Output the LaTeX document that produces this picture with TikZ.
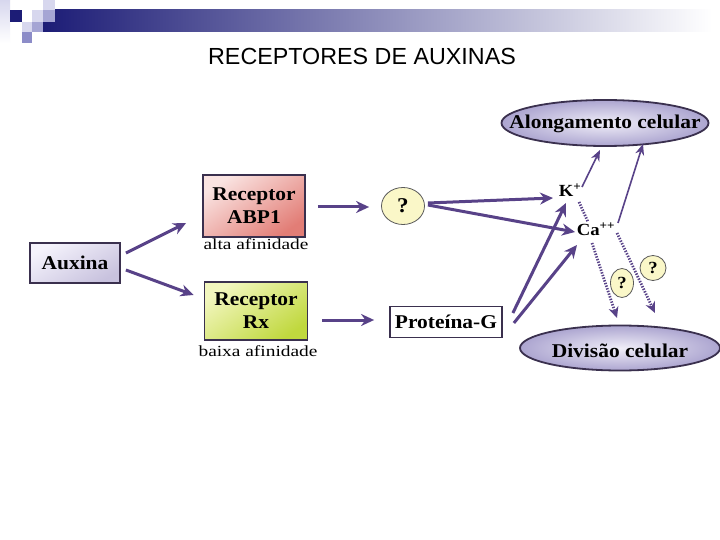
\documentclass[tikz,border=0pt]{standalone}
\usepackage{fontspec}
\setmainfont[FakeStretch=1.1]{Liberation Serif}
\newfontfamily\subfont[FakeStretch=1.25]{Liberation Serif}
\newfontfamily\titlefont{Liberation Sans}
\usetikzlibrary{shapes.geometric,arrows.meta}
\definecolor{arr}{RGB}{88,66,136}
\definecolor{navy}{RGB}{28,28,118}
\definecolor{bord}{RGB}{58,48,78}
\definecolor{lav1}{RGB}{215,215,238}
\definecolor{lav2}{RGB}{165,165,212}
\definecolor{lav3}{RGB}{140,140,200}
\tikzset{
  boxnode/.style={draw=bord, line width=1.8pt, inner sep=1pt, align=center,
    font=\bfseries\fontsize{19.5}{23}\selectfont},
  subtext/.style={font=\subfont\fontsize{15.5}{17}\selectfont, inner sep=0pt, anchor=base},
  ionnode/.style={font=\bfseries\fontsize{17}{18}\selectfont, inner sep=0pt},
  ellnode/.style={ellipse, draw=bord, line width=1.8pt, inner sep=0pt,
    inner color={rgb,255:red,240;green,238;blue,248}, outer color={rgb,255:red,172;green,165;blue,208}},
  elltext/.style={font=\bfseries\fontsize{19.5}{20}\selectfont, inner sep=0pt},
  qnode/.style={ellipse, draw={rgb,255:red,90;green,90;blue,90}, line width=0.8pt, inner sep=0pt,
    fill={rgb,255:red,250;green,247;blue,200}, font=\bfseries\fontsize{17}{18}\selectfont},
  flow/.style={draw=arr, line width=3pt, -{Stealth[length=13pt,width=12pt]}},
  thinflow/.style={draw=arr, line width=1.6pt, -{Stealth[length=11pt,width=9pt]}},
  dotflow/.style={draw=arr, line width=2.8pt, dash pattern=on 1.4pt off 1.4pt,
    -{Stealth[length=11pt,width=10pt]}},
  dotline/.style={draw=arr, line width=2.8pt, dash pattern=on 1.4pt off 1.4pt}
}
\begin{document}
\begin{tikzpicture}[x=1pt,y=-1pt]
\fill[white] (0,0) rectangle (720,540);
\useasboundingbox (0,0) rectangle (720,540);
% header decoration
\shade[top color=lav1, bottom color=white] (0,0) rectangle (10,43);
\shade[left color=navy, right color=white] (43,10) rectangle (712,32);
\fill[navy] (10,10) rectangle (22,22);
\fill[lav1] (32,10) rectangle (43,22);
\fill[lav1] (43,0) rectangle (55,10);
\fill[lav2] (43,10) rectangle (55,22);
\fill[lav1] (22,22) rectangle (32,32);
\fill[lav2] (32,22) rectangle (43,32);
\fill[lav3] (22,32) rectangle (32,43);
% title
\node[anchor=base, font=\titlefont\fontsize{23.3}{24}\selectfont, inner sep=0pt] (title) at (362,65) {RECEPTORES DE AUXINAS};
% boxes
\node[boxnode, minimum width=90pt, minimum height=40pt,
  top color={rgb,255:red,245;green,243;blue,252}, bottom color={rgb,255:red,200;green,194;blue,222}, shading angle=30] (aux) at (75,263) {Auxina};
\node[boxnode, minimum width=102pt, minimum height=62pt,
  top color={rgb,255:red,250;green,228;blue,226}, bottom color={rgb,255:red,226;green,125;blue,118}, shading angle=35] (abp) at (254,206) {Receptor\\ABP1};
\node[subtext] (alta) at (256,249) {alta afinidade};
\node[boxnode, minimum width=103pt, minimum height=58pt,
  top color={rgb,255:red,242;green,246;blue,190}, bottom color={rgb,255:red,192;green,216;blue,62}, shading angle=35] (rx) at (256,311) {Receptor\\Rx};
\node[subtext] (baixa) at (258,356) {baixa afinidade};
\node[qnode, minimum width=43pt, minimum height=37pt, font=\bfseries\fontsize{21}{22}\selectfont] (q) at (403,206) {?};
\node[boxnode, fill=white, minimum width=112pt, minimum height=31pt] (protg) at (446,322) {Proteína-G};
% ions
\node[ionnode] (k) at (570,190) {K\textsuperscript{+}};
\node[ionnode] (ca) at (596,229) {Ca\textsuperscript{++}};
% ellipses
\node[ellnode, minimum width=207pt, minimum height=46pt] (along) at (605,123) {};
\node[elltext] (alongT) at ([yshift=-1pt]along.center) {Alongamento celular};
\node[ellnode, minimum width=200pt, minimum height=45pt] (div) at (620,348) {};
\node[elltext] (divT) at ([yshift=-3pt]div.center) {Divisão celular};
% small question marks
\node[qnode, minimum width=23pt, minimum height=29pt] (q1) at (622,283) {?};
\node[qnode, minimum width=26pt, minimum height=25pt] (q2) at (653,268) {?};
% connectors
\draw[flow] ([xshift=5pt,yshift=10pt]aux.east) -- ([xshift=-16pt,yshift=-17pt]abp.west);
\draw[flow] ([xshift=5pt,yshift=-7pt]aux.east) -- ([xshift=-10pt,yshift=16pt]rx.west);
\draw[flow] ([xshift=12pt,yshift=-1pt]abp.east) -- ([xshift=-12pt,yshift=-1pt]q.west);
\draw[flow] ([xshift=14pt,yshift=-9pt]rx.east) -- ([xshift=-15pt,yshift=2pt]protg.west);
\draw[flow] ([xshift=3pt,yshift=3pt]q.east) -- ([xshift=-17pt,yshift=-8pt]k.center);
\draw[flow] ([xshift=3pt,yshift=1pt]q.east) -- ([xshift=-21pt,yshift=-3pt]ca.center);
\draw[flow] ([xshift=10pt,yshift=9pt]protg.east) -- ([xshift=-4pt,yshift=-13pt]k.center);
\draw[flow] ([xshift=11pt,yshift=-1pt]protg.east) -- ([xshift=-19pt,yshift=-16pt]ca.center);
\draw[thinflow] ([xshift=12pt,yshift=3pt]k.center) -- ([xshift=-5pt,yshift=-27pt]along.center);
\draw[thinflow] ([xshift=22pt,yshift=6pt]ca.center) -- ([xshift=38pt,yshift=-21pt]along.center);
\draw[dotline] ([xshift=9pt,yshift=-12pt]k.center) -- ([xshift=-8pt,yshift=7pt]ca.center);
\draw[dotflow] ([xshift=-4pt,yshift=-14pt]ca.center) -- ([xshift=-3pt,yshift=30pt]div.center);
\draw[dotflow] ([xshift=21pt,yshift=-4pt]ca.center) -- ([xshift=35pt,yshift=35pt]div.center);
\end{tikzpicture}
\end{document}
